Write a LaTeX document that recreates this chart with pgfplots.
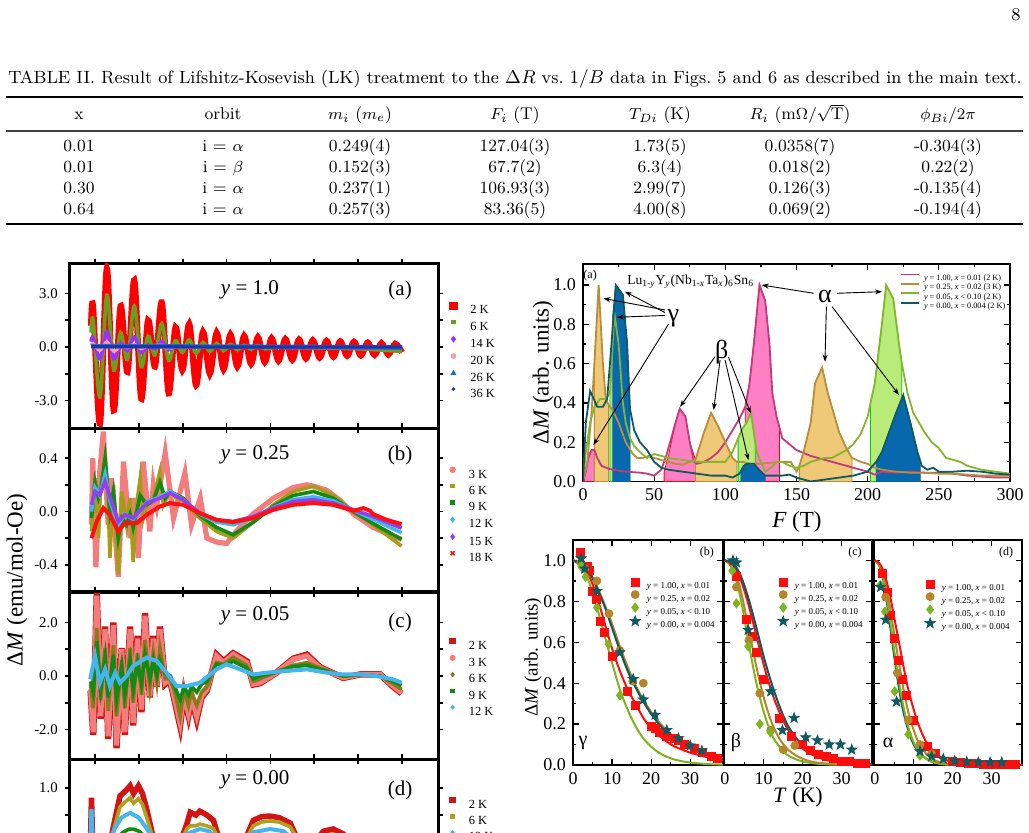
\documentclass[border=0pt]{standalone}
\usepackage{pgfplots}
\pgfplotsset{compat=1.18}
\usepackage{graphicx}
\usepackage{fontspec}
\usetikzlibrary{arrows.meta}
\newfontfamily\tnr{Liberation Serif}

% oscillation panels
\definecolor{r2}{HTML}{FF0000}
\definecolor{g6}{HTML}{6A9E1F}
\definecolor{p14}{HTML}{9B30FF}
\definecolor{pk20}{HTML}{F4A3A3}
\definecolor{b26}{HTML}{1F6FC0}
\definecolor{b36}{HTML}{1A35B0}
\definecolor{pk3}{HTML}{F37C7C}
\definecolor{ol6}{HTML}{A89B1A}
\definecolor{gr9}{HTML}{138A13}
\definecolor{cy12}{HTML}{45B5F0}
\definecolor{pu15}{HTML}{9040F0}
\definecolor{rd18}{HTML}{FF1010}
\definecolor{dr2}{HTML}{D01515}
\definecolor{ol6c}{HTML}{8A7A1A}
\definecolor{ol6d}{HTML}{B0A020}
% FFT panel
\definecolor{mline}{HTML}{C23B7A}
\definecolor{tline}{HTML}{B98E3A}
\definecolor{gline}{HTML}{86B42E}
\definecolor{bline}{HTML}{0D5B5E}
\definecolor{mfill}{HTML}{FF7FC4}
\definecolor{tfill}{HTML}{EFC878}
\definecolor{gfill}{HTML}{B8EB78}
\definecolor{bfill}{HTML}{0868AD}
% temperature-damping panels
\definecolor{lkr}{HTML}{FF0D0D}
\definecolor{lkt}{HTML}{B3862A}
\definecolor{lkg}{HTML}{7DB521}
\definecolor{lkb}{HTML}{0F5A5F}

\pgfdeclareplotmark{fstar}{%
  \pgfpathmoveto{\pgfpointpolar{90}{\pgfplotmarksize}}%
  \pgfpathlineto{\pgfpointpolar{126}{0.42\pgfplotmarksize}}%
  \pgfpathlineto{\pgfpointpolar{162}{\pgfplotmarksize}}%
  \pgfpathlineto{\pgfpointpolar{198}{0.42\pgfplotmarksize}}%
  \pgfpathlineto{\pgfpointpolar{234}{\pgfplotmarksize}}%
  \pgfpathlineto{\pgfpointpolar{270}{0.42\pgfplotmarksize}}%
  \pgfpathlineto{\pgfpointpolar{306}{\pgfplotmarksize}}%
  \pgfpathlineto{\pgfpointpolar{342}{0.42\pgfplotmarksize}}%
  \pgfpathlineto{\pgfpointpolar{18}{\pgfplotmarksize}}%
  \pgfpathlineto{\pgfpointpolar{54}{0.42\pgfplotmarksize}}%
  \pgfpathclose
  \pgfusepathqfillstroke}

\pgfplotsset{
  leftpanel/.style={
    scale only axis, width=184pt, anchor=south west,
    xmin=-0.57, xmax=7.82,
    xtick={0,1,2,3,4,5,6,7}, xticklabels={},
    tick align=outside, major tick length=2.6pt, minor tick length=2.6pt,
    axis line style={line width=1.5pt},
    every tick/.style={black, line width=0.9pt},
    tick label style={font=\tnr\fontsize{7.4}{8}\selectfont},
    legend cell align=left,
    legend image code/.code={\draw[##1] plot coordinates {(0pt,2pt)};},
    legend style={draw=none, fill=none, inner sep=0pt, anchor=north west,
      font=\tnr\fontsize{6.2}{7}\selectfont, row sep=2.7pt,
      nodes={inner sep=0.4pt, text height=4.3pt, text depth=0pt},
      /tikz/every odd column/.append style={column sep=6.3pt}},
  },
  lk/.style={
    scale only axis, anchor=south west, height=112.5pt,
    ymin=0, ymax=1.1, xtick={0,10,20,30}, xticklabels={0,10,20,30},
    minor x tick num=1, ytick={0,0.2,0.4,0.6,0.8,1}, minor y tick num=1,
    tick align=inside, major tick length=3pt, minor tick length=1.6pt,
    axis line style={line width=0.8pt},
    every tick/.style={black, line width=0.6pt},
    tick label style={font=\tnr\fontsize{9}{10}\selectfont},
    legend cell align=left,
    legend image code/.code={\draw[##1] plot coordinates {(0pt,1.6pt)};},
    legend style={draw=none, fill=none, inner sep=0pt, anchor=north west,
      font=\tnr\fontsize{4.5}{5}\selectfont, row sep=0.65pt,
      nodes={inner sep=0.3pt, text height=3.3pt, text depth=0pt},
      /tikz/every odd column/.append style={column sep=3.1pt}},
  },
  fitline/.style={line width=1pt, smooth, tension=0.5, forget plot},
}

\newcommand{\tc}[3]{\node[anchor=base,inner sep=0pt,font=\fontsize{8.5}{10}\selectfont] at (#1,#2) {#3};}

\begin{document}
\begin{tikzpicture}[x=1pt,y=1pt]
\useasboundingbox (0,0) rectangle (514.5,416);
\clip (0,0) rectangle (514.5,416);

% ---------- page number, caption and table ----------
\node[anchor=base,inner sep=0pt,font=\fontsize{9}{10}\selectfont] at (508,405.5) {8};
\node[anchor=base,inner sep=0pt] at (257.5,374) {\resizebox{506.7pt}{!}{\fontsize{8.6}{10}\selectfont TABLE II. Result of Lifshitz-Kosevish (LK) treatment to the $\Delta R$ vs.\ $1/B$ data in Figs.~5 and 6 as described in the main text.}};
\draw[line width=1pt] (3,367.5) -- (511.5,367.5);
\draw[line width=0.7pt, black!75] (3,350.5) -- (511.5,350.5);
\draw[line width=1pt] (3,304) -- (511.5,304);

\tc{39.5}{356}{x}
\tc{111.5}{356}{orbit}
\tc{180}{356}{$m_i$ ($m_e$)}
\tc{257.5}{356}{$F_i$ (T)}
\tc{330}{356}{$T_{Di}$ (K)}
\tc{400}{356}{$R_i$ (m$\Omega/\sqrt{\mathrm{T}}$)}
\tc{474}{356}{$\phi_{Bi}/2\pi$}

\tc{39.5}{340.25}{0.01}\tc{111.5}{340.25}{i = $\alpha$}\tc{180}{340.25}{0.249(4)}\tc{257.5}{340.25}{127.04(3)}\tc{330}{340.25}{1.73(5)}\tc{400}{340.25}{0.0358(7)}\tc{474}{340.25}{-0.304(3)}
\tc{39.5}{329.75}{0.01}\tc{111.5}{329.75}{i = $\beta$}\tc{180}{329.75}{0.152(3)}\tc{257.5}{329.75}{67.7(2)}\tc{330}{329.75}{6.3(4)}\tc{400}{329.75}{0.018(2)}\tc{474}{329.75}{0.22(2)}
\tc{39.5}{319.25}{0.30}\tc{111.5}{319.25}{i = $\alpha$}\tc{180}{319.25}{0.237(1)}\tc{257.5}{319.25}{106.93(3)}\tc{330}{319.25}{2.99(7)}\tc{400}{319.25}{0.126(3)}\tc{474}{319.25}{-0.135(4)}
\tc{39.5}{308.75}{0.64}\tc{111.5}{308.75}{i = $\alpha$}\tc{180}{308.75}{0.257(3)}\tc{257.5}{308.75}{83.36(5)}\tc{330}{308.75}{4.00(8)}\tc{400}{308.75}{0.069(2)}\tc{474}{308.75}{-0.194(4)}

% ---------- (a) y = 1.0 ----------
\begin{axis}[leftpanel, at={(35pt,202pt)}, height=82pt,
  ymin=-4.542, ymax=4.654, ytick={-3,0,3}, yticklabels={-3.0,0.0,3.0},
  minor ytick={-1.5,1.5}, legend style={at={(1.031,0.771)}}]
\addplot[r2, line width=3pt, smooth, tension=0.55, forget plot] coordinates {
(-0.09,1.2) (-0.043,2.25) (0.113,-4.3) (0.27,4.4) (0.427,-3.55) (0.583,2.3) (0.740,-1.4)
(0.896,3.75) (1.053,-2.9) (1.209,1.5) (1.366,-1.1) (1.522,2.5) (1.679,-2.6) (1.835,1.1)
(1.992,-1.3) (2.148,1.3) (2.305,-2.15) (2.461,0.85) (2.618,-1.5) (2.774,0.8) (2.931,-1.25)
(3.087,0.7) (3.244,-1.1) (3.40,0.62) (3.557,-0.95) (3.713,0.55) (3.870,-0.85) (4.026,0.5)
(4.183,-0.78) (4.339,0.45) (4.496,-0.72) (4.652,0.42) (4.809,-0.65) (4.965,0.38) (5.122,-0.6)
(5.278,0.35) (5.435,-0.55) (5.591,0.32) (5.748,-0.5) (5.904,0.3) (6.061,-0.48) (6.217,0.25)
(6.374,-0.45) (6.53,0.22) (6.687,-0.42) (6.843,0.18) (7.0,-0.3)};
\addplot[g6, line width=1.8pt, smooth, tension=0.55, forget plot] coordinates {
(-0.09,0.8) (-0.043,1.5) (0.113,-2.8) (0.27,2.9) (0.427,-1.3) (0.583,0.8) (0.740,-0.7)
(0.896,2.3) (1.053,-1.1) (1.209,0.6) (1.366,-0.45) (1.522,1.3) (1.679,-0.75) (1.835,0.35)
(1.992,-0.3) (2.148,0.4) (2.305,-0.35) (2.461,0.25) (2.618,-0.25) (2.774,0.2) (2.931,-0.2)
(3.087,0.15) (3.244,-0.15) (3.40,0.1) (3.557,-0.12) (3.713,0.08) (3.87,-0.1) (4.2,-0.02)
(5.0,-0.05) (6.0,-0.1) (7.0,-0.25)};
\addplot[p14, line width=1.8pt, smooth, tension=0.55, forget plot] coordinates {
(-0.09,0.3) (-0.043,0.5) (0.113,-0.65) (0.27,0.85) (0.427,-0.65) (0.583,0.2) (0.74,-0.2)
(0.896,0.55) (1.053,-0.3) (1.209,0.1) (1.366,-0.1) (1.522,0.3) (1.679,-0.15) (1.835,0.05)
(2.1,0.0) (7.0,-0.05)};
\addplot[pk20, line width=1.5pt, smooth, tension=0.55, forget plot] coordinates {
(-0.09,0.1) (-0.043,0.2) (0.113,-0.2) (0.27,0.3) (0.427,-0.25) (0.583,0.05) (0.74,-0.05)
(0.896,0.15) (1.053,-0.1) (1.209,0.05) (1.522,0.1) (1.679,-0.05) (2.0,0.0) (7.0,0.0)};
\addplot[b26, line width=2.2pt, forget plot] coordinates {(-0.09,0.05) (3.5,0.02) (7.0,-0.02)};
\addplot[b36, line width=1.6pt, forget plot] coordinates {(-0.09,0.02) (3.5,0.0) (7.0,0.0)};
\addlegendimage{only marks, mark=square*, mark size=1.8pt, r2}\addlegendentry{2 K}
\addlegendimage{only marks, mark=square*, mark size=0.9pt, g6}\addlegendentry{6 K}
\addlegendimage{only marks, mark=diamond*, mark size=1.4pt, p14}\addlegendentry{14 K}
\addlegendimage{only marks, mark=*, mark size=1.2pt, pk20}\addlegendentry{20 K}
\addlegendimage{only marks, mark=triangle*, mark size=1.3pt, b26}\addlegendentry{26 K}
\addlegendimage{only marks, mark=*, mark size=0.7pt, b36}\addlegendentry{36 K}
\node[font=\tnr\fontsize{10.5}{12}\selectfont] at (axis description cs:0.489,0.841) {\textit{y} = 1.0};
\node[font=\tnr\fontsize{10.5}{12}\selectfont] at (axis description cs:0.897,0.841) {(a)};
\end{axis}

% ---------- (b) y = 0.25 ----------
\begin{axis}[leftpanel, at={(35pt,120pt)}, height=82pt,
  ymin=-0.605, ymax=0.627, ytick={-0.4,0,0.4}, yticklabels={-0.4,0.0,0.4},
  minor ytick={-0.2,0.2}, legend style={at={(1.031,0.765)}},
  ylabel={Δ\textit{M} (emu/mol-Oe)},
  ylabel style={at={(axis description cs:-0.144,0.073)}, anchor=center, font=\tnr\fontsize{11.5}{13}\selectfont}]
\addplot[pk3, line width=2.6pt, forget plot] coordinates {
(-0.08,-0.1) (-0.05,0.4) (0.02,-0.42) (0.11,0.3) (0.19,0.6) (0.30,-0.1) (0.37,0.25) (0.53,-0.49)
(0.65,0.375) (0.80,-0.2) (0.87,0.1) (0.99,-0.35) (1.10,0.375) (1.25,-0.15) (1.33,0.2) (1.41,0.05)
(1.60,0.44) (1.79,-0.05) (2.05,0.29) (2.20,-0.1) (2.40,0.1) (2.55,-0.2) (2.77,-0.23) (3.0,-0.24)
(3.3,-0.12) (3.6,-0.02) (4.07,0.1) (4.52,0.18) (4.83,0.2) (4.98,0.19) (5.28,0.16) (5.6,0.08)
(5.9,-0.02) (6.34,-0.12) (6.99,-0.21)};
\addplot[ol6, line width=1.8pt, forget plot] coordinates {
(-0.08,-0.15) (0,0.25) (0.08,-0.2) (0.13,0.2) (0.23,0.4) (0.30,0.1) (0.34,-0.35) (0.42,0.2)
(0.53,-0.47) (0.61,0.15) (0.72,-0.1) (0.80,0.1) (0.87,-0.38) (0.95,0.05) (1.03,0.25) (1.10,-0.05)
(1.18,0.05) (1.33,0.1) (1.48,0.3) (1.56,0.05) (1.71,0.15) (1.86,0.1) (2.01,0.08) (2.39,-0.05)
(2.77,-0.15) (3.15,-0.2) (3.61,-0.08) (4.07,0.05) (4.52,0.15) (4.98,0.19) (5.43,0.12) (5.89,0.0)
(6.34,-0.1) (6.99,-0.26)};
\addplot[gr9, line width=1.8pt, forget plot] coordinates {
(-0.08,-0.05) (0,0.22) (0.08,0.1) (0.13,0.15) (0.23,0.4) (0.34,0.0) (0.42,0.15) (0.53,-0.2)
(0.61,-0.05) (0.72,-0.1) (0.80,-0.02) (0.87,-0.12) (1.03,0.12) (1.18,0.05) (1.33,0.08) (1.48,0.22)
(1.60,0.1) (1.71,0.15) (2.01,0.1) (2.39,-0.03) (2.77,-0.12) (3.15,-0.175) (3.61,-0.08) (4.07,0.04)
(4.52,0.12) (4.98,0.15) (5.43,0.1) (5.89,0.0) (6.34,-0.09) (6.99,-0.21)};
\addplot[cy12, line width=1.8pt, forget plot] coordinates {
(-0.08,0.0) (0,0.18) (0.11,0.12) (0.23,0.28) (0.34,0.08) (0.53,-0.1) (0.68,-0.02) (0.87,-0.06)
(1.18,0.07) (1.48,0.11) (1.71,0.15) (2.01,0.09) (2.39,-0.02) (2.77,-0.08) (3.15,-0.1) (3.61,-0.05)
(4.07,0.03) (4.52,0.09) (4.98,0.11) (5.43,0.08) (5.89,0.01) (6.34,-0.06) (6.99,-0.16)};
\addplot[pu15, line width=1.8pt, forget plot] coordinates {
(-0.08,0.05) (0,0.15) (0.11,0.125) (0.23,0.225) (0.34,0.11) (0.53,-0.075) (0.68,-0.025) (0.87,-0.05)
(1.18,0.063) (1.48,0.1) (1.71,0.138) (2.01,0.088) (2.39,-0.013) (2.77,-0.063) (3.15,-0.075)
(3.61,-0.038) (4.07,0.025) (4.52,0.075) (4.98,0.088) (5.43,0.063) (5.89,0.013) (6.34,-0.038) (6.99,-0.125)};
\addplot[rd18, line width=2pt, forget plot] coordinates {
(-0.08,-0.2) (0.04,-0.075) (0.19,0.025) (0.34,-0.025) (0.53,-0.15) (0.68,-0.088) (0.95,-0.088)
(1.18,-0.025) (1.48,0.038) (1.71,0.063) (2.01,0.05) (2.39,-0.013) (2.77,-0.063) (3.15,-0.08)
(3.61,-0.05) (4.07,0.013) (4.52,0.05) (4.98,0.063) (5.43,0.05) (5.89,0.005) (6.12,0.025)
(6.27,0.005) (6.34,-0.02) (6.65,-0.063) (6.99,-0.095)};
\addlegendimage{only marks, mark=*, mark size=1.4pt, pk3}\addlegendentry{3 K}
\addlegendimage{only marks, mark=square*, mark size=0.9pt, ol6}\addlegendentry{6 K}
\addlegendimage{only marks, mark=square*, mark size=1.0pt, gr9}\addlegendentry{9 K}
\addlegendimage{only marks, mark=diamond*, mark size=1.3pt, cy12}\addlegendentry{12 K}
\addlegendimage{only marks, mark=diamond*, mark size=1.3pt, pu15}\addlegendentry{15 K}
\addlegendimage{only marks, mark=x, mark size=1.4pt, line width=0.8pt, rd18}\addlegendentry{18 K}
\node[font=\tnr\fontsize{10.5}{12}\selectfont] at (axis description cs:0.503,0.835) {\textit{y} = 0.25};
\node[font=\tnr\fontsize{10.5}{12}\selectfont] at (axis description cs:0.897,0.835) {(b)};
\end{axis}

% ---------- (c) y = 0.05 ----------
\begin{axis}[leftpanel, at={(35pt,36.5pt)}, height=83.5pt,
  ymin=-3.10, ymax=3.14, ytick={-2,0,2}, yticklabels={-2.0,0.0,2.0},
  minor ytick={-1,1}, legend style={at={(1.031,0.727)}}]
\addplot[dr2, line width=3.2pt, forget plot] coordinates {
(-0.10,-0.55) (-0.04,-2.2) (0.04,3.1) (0.13,-1.6) (0.23,1.85) (0.30,-2.35) (0.42,2.0) (0.49,-2.7)
(0.61,1.05) (0.68,-2.2) (0.80,1.85) (0.87,-1.85) (0.97,1.5) (1.06,-1.35) (1.14,2.35) (1.25,-0.8)
(1.33,1.5) (1.41,-0.4) (1.48,1.85) (1.60,-0.3) (1.71,-0.15) (1.82,-0.95) (1.94,-1.85) (2.03,-0.7)
(2.13,-1.45) (2.20,-0.8) (2.32,-1.6) (2.43,-0.8) (2.55,-0.55) (2.77,0.8) (2.93,0.55) (3.15,0.85)
(3.46,0.55) (3.61,-0.32) (3.76,-0.27) (4.14,0.13) (4.52,0.65) (4.83,0.8) (5.13,0.33) (5.66,-0.07)
(6.04,0.06) (6.50,0.06) (6.80,-0.4) (6.99,-0.65)};
\addplot[pk3, line width=2.6pt, forget plot] coordinates {
(-0.10,-0.5) (-0.04,-2.1) (0.04,3.0) (0.13,-1.5) (0.23,1.75) (0.30,-2.25) (0.42,1.9) (0.49,-2.6)
(0.61,1.0) (0.68,-2.1) (0.80,1.75) (0.87,-1.75) (0.97,1.4) (1.06,-1.25) (1.14,2.25) (1.25,-0.75)
(1.33,1.4) (1.41,-0.375) (1.48,1.75) (1.60,-0.25) (1.71,-0.125) (1.82,-0.875) (1.94,-1.75)
(2.03,-0.625) (2.13,-1.375) (2.20,-0.75) (2.32,-1.5) (2.43,-0.75) (2.55,-0.5) (2.77,0.75)
(2.93,0.5) (3.15,0.81) (3.46,0.5) (3.61,-0.3) (3.76,-0.25) (4.14,0.125) (4.52,0.625) (4.83,0.75)
(5.13,0.31) (5.66,-0.06) (6.04,0.06) (6.50,0.06) (6.80,-0.375) (6.99,-0.625)};
\addplot[ol6c, line width=1.8pt, forget plot] coordinates {
(-0.10,-0.3) (-0.04,-1.2) (0.04,1.8) (0.13,-0.9) (0.23,1.05) (0.30,-1.3) (0.42,1.15) (0.49,-1.5)
(0.61,0.6) (0.68,-1.2) (0.80,1.05) (0.87,-1.0) (0.97,0.85) (1.06,-0.7) (1.14,1.35) (1.25,-0.4)
(1.33,0.85) (1.41,-0.2) (1.48,1.05) (1.60,-0.1) (1.71,-0.1) (1.82,-0.6) (1.94,-1.5) (2.03,-0.5)
(2.13,-1.1) (2.20,-0.6) (2.32,-1.1) (2.43,-0.6) (2.55,-0.4) (2.77,0.5) (2.93,0.45) (3.15,0.7)
(3.46,0.4) (3.61,-0.2) (3.76,-0.1) (4.14,0.15) (4.52,0.4) (4.83,0.5) (5.13,0.3) (5.66,0.0)
(6.04,0.05) (6.50,0.0) (6.80,-0.3) (6.99,-0.5)};
\addplot[gr9, line width=1.8pt, forget plot] coordinates {
(-0.10,-0.2) (-0.04,-0.6) (0.04,1.3) (0.13,-0.5) (0.23,0.7) (0.30,-0.8) (0.42,0.8) (0.49,-0.9)
(0.61,0.4) (0.68,-0.7) (0.80,0.6) (0.87,-0.5) (0.97,0.5) (1.06,-0.3) (1.14,0.8) (1.25,-0.1)
(1.33,0.6) (1.41,0.0) (1.48,0.6) (1.60,0.1) (1.71,0.0) (1.82,-0.4) (1.94,-0.9) (2.03,-0.4)
(2.13,-0.7) (2.20,-0.4) (2.32,-0.6) (2.43,-0.3) (2.55,-0.2) (2.77,0.45) (2.93,0.4) (3.15,0.55)
(3.46,0.3) (3.61,-0.1) (3.76,0.0) (4.14,0.15) (4.52,0.35) (4.83,0.4) (5.13,0.25) (5.66,0.0)
(6.04,0.05) (6.50,0.0) (6.80,-0.2) (6.99,-0.35)};
\addplot[cy12, line width=2pt, forget plot] coordinates {
(-0.11,-0.125) (0,0.75) (0.11,-0.25) (0.23,0.25) (0.34,-0.375) (0.46,0.125) (0.57,-0.25) (0.72,0)
(0.87,0.375) (1.18,0.69) (1.41,0.56) (1.63,0.125) (1.86,-0.375) (2.09,-0.375) (2.39,-0.25)
(2.77,0.25) (3.0,0.44) (3.31,0.25) (3.61,0.06) (3.91,0.125) (4.37,0.19) (4.83,0.25) (5.28,0.125)
(5.66,0.06) (6.04,0.06) (6.42,0) (6.8,-0.125) (6.99,-0.25)};
\addlegendimage{only marks, mark=square*, mark size=1.4pt, dr2}\addlegendentry{2 K}
\addlegendimage{only marks, mark=*, mark size=1.3pt, pk3}\addlegendentry{3 K}
\addlegendimage{only marks, mark=diamond*, mark size=1.1pt, ol6c}\addlegendentry{6 K}
\addlegendimage{only marks, mark=square*, mark size=0.9pt, gr9}\addlegendentry{9 K}
\addlegendimage{only marks, mark=*, mark size=0.9pt, cy12}\addlegendentry{12 K}
\node[font=\tnr\fontsize{10.5}{12}\selectfont] at (axis description cs:0.503,0.855) {\textit{y} = 0.05};
\node[font=\tnr\fontsize{10.5}{12}\selectfont] at (axis description cs:0.897,0.82) {(c)};
\end{axis}

% ---------- (d) y = 0.00 ----------
\begin{axis}[leftpanel, at={(35pt,-46.5pt)}, height=83pt,
  ymin=-1.537, ymax=1.537, ytick={1}, yticklabels={1.0},
  minor ytick={-1,-0.5,0,0.5}, legend style={at={(1.031,0.773)}}]
\addplot[dr2, line width=2.8pt, forget plot] coordinates {
(-0.11,-0.3) (-0.08,0.82) (-0.05,-0.2) (0.1,-0.4) (0.3,-0.2) (0.45,0.4) (0.57,0.85) (0.7,0.95)
(0.80,1.04) (0.88,0.9) (0.99,1.04) (1.08,0.9) (1.18,0.6) (1.35,0.0) (1.6,-0.3) (1.9,-0.1)
(2.1,0.35) (2.17,0.55) (2.3,0.5) (2.39,0.57) (2.55,0.5) (2.7,0.4) (2.85,0.0) (3.1,-0.3) (3.4,0.0)
(3.61,0.4) (3.8,0.47) (3.99,0.48) (4.2,0.45) (4.45,0.35) (4.7,-0.1) (5.0,0.0) (5.21,0.2)
(5.43,0.24) (5.66,0.15) (5.9,-0.1) (6.3,-0.2) (7.0,-0.1)};
\addplot[ol6d, line width=1.8pt, forget plot] coordinates {
(-0.11,-0.2) (-0.08,0.6) (-0.05,-0.2) (0.1,-0.35) (0.3,-0.15) (0.45,0.3) (0.57,0.65) (0.7,0.75)
(0.80,0.82) (0.88,0.72) (0.99,0.8) (1.08,0.7) (1.18,0.45) (1.35,0.0) (1.6,-0.25) (1.9,-0.05)
(2.1,0.25) (2.17,0.3) (2.3,0.3) (2.39,0.33) (2.55,0.3) (2.7,0.25) (2.85,0.0) (3.1,-0.25) (3.4,0.0)
(3.61,0.3) (3.8,0.37) (3.99,0.39) (4.2,0.37) (4.45,0.28) (4.7,-0.05) (5.0,-0.02) (5.21,0.12)
(5.43,0.15) (5.66,0.08) (5.9,-0.1) (6.3,-0.15) (7.0,-0.1)};
\addplot[gr9, line width=1.8pt, smooth, forget plot] coordinates {
(-0.11,0) (0.3,-0.1) (0.6,0.15) (0.8,0.24) (1.0,0.2) (1.3,0.0) (1.8,-0.05) (2.39,0.12) (3.0,-0.05)
(3.99,0.12) (4.6,0.0) (7,0)};
\addplot[cy12, line width=2pt, forget plot] coordinates {
(-0.11,-0.1) (-0.08,0.61) (-0.05,0.0) (0.1,-0.2) (0.3,-0.05) (0.45,0.25) (0.6,0.45) (0.8,0.54)
(1.0,0.45) (1.18,0.25) (1.35,0.0) (1.6,-0.15) (1.9,0.0) (2.1,0.15) (2.39,0.24) (2.6,0.2) (2.85,0.0)
(3.1,-0.15) (3.4,0.0) (3.61,0.18) (3.99,0.24) (4.3,0.2) (4.6,0.0) (5.0,-0.05) (5.4,0.1) (5.7,0.05)
(6.2,-0.1) (7.0,-0.05)};
\addlegendimage{only marks, mark=square*, mark size=1.4pt, dr2}\addlegendentry{2 K}
\addlegendimage{only marks, mark=square*, mark size=0.9pt, ol6d}\addlegendentry{6 K}
\addlegendimage{only marks, mark=*, mark size=0.9pt, cy12}\addlegendentry{12 K}
\node[font=\tnr\fontsize{10.5}{12}\selectfont] at (axis description cs:0.503,0.873) {\textit{y} = 0.00};
\node[font=\tnr\fontsize{10.5}{12}\selectfont] at (axis description cs:0.897,0.813) {(d)};
\end{axis}

% ---------- FFT amplitude ----------
\begin{axis}[scale only axis, at={(291.5pt,175.25pt)}, anchor=south west,
  width=213.5pt, height=108.75pt, xmin=0, xmax=300, ymin=0, ymax=1.107,
  xtick={0,50,100,150,200,250,300}, xticklabels={0,50,100,150,200,250,300},
  ytick={0,0.2,0.4,0.6,0.8,1}, yticklabels={0.0,0.2,0.4,0.6,0.8,1.0},
  minor x tick num=1, minor y tick num=1,
  tick align=inside, major tick length=3pt, minor tick length=1.6pt,
  axis line style={line width=0.8pt}, every tick/.style={black, line width=0.6pt},
  tick label style={font=\tnr\fontsize{9}{10}\selectfont},
  xlabel={\textit{F} (T)}, ylabel={Δ\textit{M} (arb. units)},
  label style={font=\tnr\fontsize{11.5}{13}\selectfont},
  xlabel style={at={(axis description cs:0.501,-0.186)}, anchor=center},
  ylabel style={at={(axis description cs:-0.0937,0.5)}, anchor=center},
  legend cell align=left,
  legend image code/.code={\draw[#1] (0pt,1.4pt) -- (9pt,1.4pt);},
  legend style={at={(0.742,0.958)}, anchor=north west, draw=none, fill=none, inner sep=0pt,
    font=\tnr\fontsize{4.1}{5}\selectfont, row sep=1.05pt,
    nodes={inner sep=0.3pt, text height=3pt, text depth=0pt},
    /tikz/every odd column/.append style={column sep=1.7pt}}]
% filled peaks
\addplot[fill=mfill, draw=red, line width=0.4pt, forget plot] coordinates {(1,0.02) (3,0.1) (6,0.16) (8,0.16) (9,0.14)} \closedcycle;
\addplot[fill=mfill, draw=red, line width=0.4pt, forget plot] coordinates {(57,0.05) (60,0.13) (65,0.3) (68,0.37) (72,0.33) (75,0.2) (80,0.09)} \closedcycle;
\addplot[fill=mfill, draw=red, line width=0.4pt, forget plot] coordinates {(114,0.38) (117,0.5) (120,0.7) (124,1.0) (128,0.92) (131,0.7) (133,0.45) (136,0.33) (138,0.28)} \closedcycle;
\addplot[fill=tfill, draw=tline, line width=0.4pt, forget plot] coordinates {(8,0.6) (11,1.0) (14,0.6) (16,0.42) (18,0.39)} \closedcycle;
\addplot[fill=tfill, draw=tline, line width=0.4pt, forget plot] coordinates {(79,0.11) (85,0.25) (90,0.35) (95,0.28) (100,0.2) (105,0.12) (108,0.1)} \closedcycle;
\addplot[fill=tfill, draw=tline, line width=0.4pt, forget plot] coordinates {(152,0.08) (155,0.15) (160,0.3) (163,0.5) (168,0.58) (172,0.45) (176,0.35) (180,0.25) (185,0.17) (189,0.12)} \closedcycle;
\addplot[fill=gfill, draw=green!80!black, line width=0.4pt, forget plot] coordinates {(19,0.45) (22,0.86) (25,0.7) (28,0.4) (30,0.3) (33,0.22)} \closedcycle;
\addplot[fill=gfill, draw=green!80!black, line width=0.4pt, forget plot] coordinates {(109,0.22) (112,0.27) (115,0.3) (118,0.35) (120,0.25) (121,0.2)} \closedcycle;
\addplot[fill=gfill, draw=green!80!black, line width=0.4pt, forget plot] coordinates {(202,0.4) (205,0.5) (210,0.8) (213,1.0) (218,0.93) (222,0.7) (224,0.6)} \closedcycle;
\addplot[fill=bfill, draw=bfill, line width=0.4pt, forget plot] coordinates {(21,0.85) (23,1.0) (28,0.95) (31,0.7) (33,0.37)} \closedcycle;
\addplot[fill=bfill, draw=bfill, line width=0.4pt, forget plot] coordinates {(111,0.05) (113,0.08) (115,0.09) (120,0.09) (125,0.05) (128,0.03)} \closedcycle;
\addplot[fill=bfill, draw=bfill, line width=0.4pt, forget plot] coordinates {(206,0.1) (210,0.15) (215,0.25) (220,0.35) (225,0.44) (230,0.3) (235,0.15) (237,0.08)} \closedcycle;
% spectra
\addplot[mline, line width=0.9pt] coordinates {
(0,0) (2,0.05) (4,0.13) (6,0.16) (8,0.16) (10,0.12) (13,0.08) (18,0.065) (25,0.055) (30,0.05)
(40,0.045) (45,0.04) (50,0.03) (55,0.06) (58,0.12) (62,0.22) (65,0.3) (68,0.37) (72,0.33) (75,0.2)
(78,0.1) (80,0.09) (85,0.1) (90,0.12) (95,0.15) (100,0.2) (105,0.26) (110,0.32) (114,0.38) (117,0.5)
(120,0.7) (124,1.0) (128,0.92) (131,0.7) (133,0.45) (136,0.33) (140,0.22) (150,0.16) (160,0.13)
(170,0.11) (180,0.09) (190,0.07) (200,0.05) (205,0.035) (210,0.05) (220,0.045) (230,0.05)
(240,0.045) (250,0.045) (260,0.04) (270,0.03) (280,0.025) (290,0.02) (300,0.02)};
\addlegendentry{\textit{y} = 1.00, \textit{x} = 0.01 (2 K)}
\addplot[tline, line width=0.9pt] coordinates {
(0,0) (3,0.1) (6,0.35) (8,0.6) (11,1.0) (14,0.6) (16,0.42) (18,0.39) (21,0.36) (25,0.3) (30,0.2)
(35,0.14) (38,0.12) (42,0.12) (46,0.13) (50,0.12) (55,0.11) (60,0.1) (65,0.09) (70,0.085) (75,0.1)
(79,0.11) (85,0.25) (90,0.35) (95,0.28) (100,0.2) (105,0.12) (108,0.1) (112,0.1) (118,0.09)
(125,0.09) (130,0.095) (140,0.1) (146,0.1) (150,0.05) (152,0.08) (155,0.15) (160,0.3) (163,0.5)
(168,0.58) (172,0.45) (176,0.35) (180,0.25) (185,0.17) (189,0.12) (195,0.1) (200,0.09) (205,0.07)
(210,0.06) (220,0.05) (230,0.045) (240,0.045) (250,0.04) (260,0.04) (270,0.035) (280,0.03)
(290,0.03) (300,0.03)};
\addlegendentry{\textit{y} = 0.25, \textit{x} = 0.02 (3 K)}
\addplot[gline, line width=0.9pt] coordinates {
(0,0) (2,0.15) (5,0.3) (8,0.38) (12,0.42) (16,0.42) (19,0.45) (22,0.86) (25,0.7) (28,0.4) (30,0.3)
(33,0.22) (36,0.18) (40,0.15) (45,0.12) (50,0.14) (55,0.13) (60,0.12) (70,0.11) (80,0.1) (90,0.1)
(100,0.1) (105,0.15) (109,0.22) (112,0.27) (115,0.3) (118,0.35) (120,0.25) (122,0.15) (125,0.1)
(128,0.05) (132,0.07) (136,0.1) (140,0.1) (145,0.08) (150,0.07) (155,0.08) (160,0.1) (170,0.12)
(175,0.12) (180,0.14) (185,0.16) (190,0.19) (195,0.24) (200,0.33) (202,0.4) (205,0.5) (210,0.8)
(213,1.0) (218,0.93) (222,0.7) (224,0.6) (228,0.45) (232,0.35) (236,0.3) (240,0.25) (245,0.2)
(250,0.17) (255,0.12) (260,0.11) (265,0.1) (270,0.08) (280,0.06) (290,0.05) (300,0.04)};
\addlegendentry{\textit{y} = 0.05, \textit{x} < 0.10 (2 K)}
\addplot[bline, line width=0.9pt] coordinates {
(0,0) (2,0.3) (5,0.46) (7,0.43) (10,0.38) (14,0.38) (17,0.42) (20,0.7) (23,1.0) (28,0.95) (31,0.7)
(33,0.37) (36,0.26) (40,0.2) (45,0.16) (50,0.1) (55,0.07) (60,0.06) (70,0.05) (80,0.04) (90,0.03)
(100,0.03) (105,0.02) (110,0.04) (113,0.08) (115,0.09) (120,0.09) (125,0.05) (128,0.03) (135,0.03)
(140,0.03) (145,0.035) (150,0.02) (155,0.01) (160,0.0) (170,0.01) (180,0.02) (190,0.03) (200,0.05)
(206,0.1) (210,0.15) (215,0.25) (220,0.35) (225,0.44) (230,0.3) (235,0.15) (238,0.08) (242,0.06)
(246,0.07) (250,0.05) (260,0.05) (270,0.055) (280,0.05) (290,0.04) (300,0.035)};
\addlegendentry{\textit{y} = 0.00, \textit{x} = 0.004 (2 K)}
% labels and arrows
\node[anchor=center, font=\tnr\fontsize{6}{7}\selectfont] at (axis cs:5,1.046) {(a)};
\node[anchor=west, inner sep=0pt, font=\tnr\fontsize{6.8}{8}\selectfont] at (axis cs:30.9,1.015)
  {Lu\textsubscript{1-\textit{y}}Y\textsubscript{\textit{y}}(Nb\textsubscript{1-\textit{x}}Ta\textsubscript{\textit{x}})\textsubscript{6}Sn\textsubscript{6}};
\node[font=\tnr\fontsize{13}{14}\selectfont] at (axis cs:63.5,0.83) {γ};
\node[font=\tnr\fontsize{13}{14}\selectfont] at (axis cs:97.4,0.66) {β};
\node[font=\tnr\fontsize{13}{14}\selectfont] at (axis cs:170,0.94) {α};
\begin{scope}[-{Stealth[length=3.5pt,width=2.5pt]}, line width=0.45pt]
\draw (axis cs:162,0.958) -- (axis cs:125.6,1.0);
\draw (axis cs:178.5,0.958) -- (axis cs:210.1,0.966);
\draw (axis cs:171,0.89) -- (axis cs:170,0.61);
\draw (axis cs:175,0.89) -- (axis cs:222,0.44);
\draw (axis cs:57.6,0.873) -- (axis cs:14.3,0.932);
\draw (axis cs:57.6,0.86) -- (axis cs:29.5,0.966);
\draw (axis cs:57.6,0.845) -- (axis cs:23.7,0.836);
\draw (axis cs:60,0.8) -- (axis cs:7.3,0.186);
\draw (axis cs:92.7,0.635) -- (axis cs:68.2,0.38);
\draw (axis cs:96.3,0.618) -- (axis cs:91.8,0.364);
\draw (axis cs:99.8,0.618) -- (axis cs:116.2,0.109);
\draw (axis cs:102.1,0.635) -- (axis cs:117.9,0.347);
\end{scope}
\end{axis}

% ---------- temperature dependence: gamma ----------
\begin{axis}[lk, at={(286.5pt,33.5pt)}, width=75pt, xmin=0, xmax=38.4,
  yticklabels={0.0,0.2,0.4,0.6,0.8,1.0},
  ylabel={Δ\textit{M} (arb. units)},
  ylabel style={at={(axis description cs:-0.267,0.48)}, anchor=center, font=\tnr\fontsize{9.5}{11}\selectfont},
  legend style={at={(0.379,0.832)}}]
\addplot[fitline, lkg] coordinates {(0,1) (2,0.97) (4,0.9) (6,0.78) (8,0.64) (10,0.5) (12,0.37) (14,0.27) (16,0.19) (18,0.13) (20,0.09) (22,0.06) (24,0.04) (26,0.027) (28,0.018) (30,0.012) (32,0.008) (34,0.005) (36,0.003) (38.4,0.002)};
\addplot[fitline, lkr] coordinates {(0,1) (2,0.98) (4,0.93) (6,0.83) (8,0.70) (10,0.57) (12,0.46) (14,0.37) (16,0.30) (18,0.23) (20,0.18) (22,0.145) (24,0.115) (26,0.09) (28,0.075) (30,0.06) (32,0.05) (34,0.04) (36,0.032) (38.4,0.025)};
\addplot[fitline, lkt] coordinates {(0,1) (2,0.99) (4,0.95) (6,0.88) (8,0.79) (10,0.69) (12,0.58) (14,0.48) (16,0.39) (18,0.32) (20,0.26) (22,0.21) (24,0.17) (26,0.135) (28,0.11) (30,0.085) (32,0.07) (34,0.055) (36,0.043) (38.4,0.035)};
\addplot[fitline, lkb] coordinates {(0,1) (2,0.99) (4,0.95) (6,0.87) (8,0.78) (10,0.67) (12,0.56) (14,0.46) (16,0.38) (18,0.31) (20,0.25) (22,0.2) (24,0.16) (26,0.125) (28,0.1) (30,0.08) (32,0.062) (34,0.05) (36,0.04) (38.4,0.03)};
\addplot[only marks, mark=square*, mark size=2pt, lkr] coordinates {(2,1.04) (3.6,0.97) (4.2,0.95) (5,0.85) (6,0.81) (7,0.70) (8,0.65) (10,0.53) (14,0.36) (16,0.29) (20,0.19) (21,0.18) (22,0.16) (24,0.14) (26,0.13) (27,0.12) (28.6,0.10) (31,0.08) (33,0.06) (35.5,0.04) (37,0.03)};
\addlegendentry{\textit{y} = 1.00, \textit{x} = 0.01}
\addplot[only marks, mark=*, mark size=2pt, lkt] coordinates {(2,0.99) (3,0.96) (6.1,0.90) (9.2,0.74) (12,0.56) (15.3,0.41) (18,0.40)};
\addlegendentry{\textit{y} = 0.25, \textit{x} = 0.02}
\addplot[only marks, mark=diamond*, mark size=2.3pt, lkg] coordinates {(2.1,0.97) (3.2,0.92) (6.1,0.77) (9.1,0.59) (12,0.34)};
\addlegendentry{\textit{y} = 0.05, \textit{x} < 0.10}
\addplot[only marks, mark=fstar, mark size=2.6pt, lkb] coordinates {(2.1,1.01) (3,0.96) (6.1,0.85) (12,0.55) (15.4,0.42) (18,0.32) (21,0.245) (24,0.17) (27,0.13) (30,0.095) (33,0.07)};
\addlegendentry{\textit{y} = 0.00, \textit{x} = 0.004}
\node[font=\tnr\fontsize{6}{7}\selectfont] at (axis description cs:0.893,0.942) {(b)};
\node[font=\tnr\fontsize{10}{11}\selectfont] at (axis description cs:0.067,0.098) {γ};
\end{axis}

% ---------- temperature dependence: beta ----------
\begin{axis}[lk, at={(362pt,33.5pt)}, width=74pt, xmin=-0.2, xmax=37.8,
  yticklabels={}, xlabel={\textit{T} (K)},
  xlabel style={at={(axis description cs:0.5,-0.142)}, anchor=center, font=\tnr\fontsize{11}{12}\selectfont},
  legend style={at={(0.364,0.832)}}]
\addplot[fitline, lkg] coordinates {(0,1) (2,0.96) (4,0.82) (6,0.61) (8,0.41) (10,0.26) (12,0.15) (14,0.09) (16,0.05) (18,0.03) (20,0.017) (22,0.01) (24,0.006) (26,0.003) (30,0.001) (37.8,0)};
\addplot[fitline, lkt] coordinates {(0,1) (2,0.97) (4,0.86) (6,0.68) (8,0.49) (10,0.33) (12,0.21) (14,0.13) (16,0.08) (18,0.05) (20,0.03) (22,0.018) (24,0.011) (26,0.007) (28,0.004) (30,0.002) (34,0.001) (37.8,0)};
\addplot[fitline, lkr] coordinates {(0,1) (2,0.98) (4,0.91) (6,0.79) (8,0.64) (10,0.49) (12,0.36) (14,0.26) (16,0.18) (18,0.12) (20,0.08) (22,0.055) (24,0.037) (26,0.025) (28,0.016) (30,0.01) (32,0.007) (34,0.005) (36,0.003) (37.8,0.002)};
\addplot[fitline, lkb] coordinates {(0,1) (2,0.99) (4,0.93) (6,0.82) (8,0.68) (10,0.53) (12,0.40) (14,0.29) (16,0.2) (18,0.14) (20,0.095) (22,0.065) (24,0.045) (26,0.03) (28,0.02) (30,0.013) (32,0.009) (34,0.006) (36,0.004) (37.8,0.003)};
\addplot[only marks, mark=square*, mark size=2pt, lkr] coordinates {(3,0.92) (5.6,0.71) (7.1,0.63) (8,0.55) (10,0.42) (13.9,0.23) (17,0.14) (20,0.10) (22,0.07) (24,0.05) (26,0.04) (28,0.03) (30,0.02) (32,0.02) (34,0.01) (36,0.01)};
\addlegendentry{\textit{y} = 1.00, \textit{x} = 0.01}
\addplot[only marks, mark=*, mark size=2pt, lkt] coordinates {(3,0.87) (6.2,0.61) (9,0.35) (11.8,0.17) (15,0.075) (18,0.095)};
\addlegendentry{\textit{y} = 0.25, \textit{x} = 0.02}
\addplot[only marks, mark=diamond*, mark size=2.3pt, lkg] coordinates {(1.9,0.95) (3,0.79) (6,0.58) (9,0.2) (11.7,0.16)};
\addlegendentry{\textit{y} = 0.05, \textit{x} < 0.10}
\addplot[only marks, mark=fstar, mark size=2.6pt, lkb] coordinates {(2.1,1.0) (3,0.99) (6,0.66) (11.8,0.36) (14.8,0.17) (17.8,0.23) (20.8,0.135) (23.8,0.12) (26.8,0.10) (29.7,0.10) (32.6,0.075)};
\addlegendentry{\textit{y} = 0.00, \textit{x} = 0.004}
\node[font=\tnr\fontsize{6}{7}\selectfont] at (axis description cs:0.885,0.942) {(c)};
\node[font=\tnr\fontsize{10}{11}\selectfont] at (axis description cs:0.081,0.098) {β};
\end{axis}

% ---------- temperature dependence: alpha ----------
\begin{axis}[lk, at={(437pt,33.5pt)}, width=74pt, xmin=-0.2, xmax=37.8,
  yticklabels={}, legend style={at={(0.343,0.823)}}]
\addplot[fitline, lkb] coordinates {(0,1) (1,0.98) (2,0.92) (3,0.81) (4,0.67) (5,0.53) (6,0.4) (7,0.29) (8,0.21) (9,0.145) (10,0.1) (11,0.07) (12,0.048) (14,0.022) (16,0.01) (18,0.005) (20,0.002) (37.8,0)};
\addplot[fitline, lkg] coordinates {(0,1) (1,0.98) (2,0.93) (3,0.83) (4,0.7) (5,0.56) (6,0.43) (7,0.32) (8,0.23) (9,0.16) (10,0.11) (11,0.075) (12,0.05) (14,0.02) (16,0.008) (18,0.003) (20,0.001) (37.8,0)};
\addplot[fitline, lkt] coordinates {(0,1) (1,0.99) (2,0.95) (3,0.87) (4,0.76) (5,0.64) (6,0.52) (7,0.41) (8,0.31) (9,0.23) (10,0.17) (11,0.12) (12,0.085) (13,0.06) (14,0.04) (16,0.018) (18,0.008) (20,0.003) (24,0.001) (37.8,0)};
\addplot[fitline, lkr] coordinates {(0,1) (1,0.99) (2,0.96) (3,0.9) (4,0.82) (5,0.72) (6,0.62) (7,0.52) (8,0.42) (9,0.34) (10,0.27) (11,0.21) (12,0.16) (13,0.12) (14,0.09) (16,0.05) (18,0.027) (20,0.015) (24,0.004) (28,0.001) (37.8,0)};
\addplot[only marks, mark=square*, mark size=2pt, lkr] coordinates {(2,0.935) (3.2,0.845) (4.1,0.73) (5,0.62) (6,0.51) (7.1,0.42) (8,0.34) (9.8,0.22) (13.5,0.09) (15.6,0.057) (20,0.02) (22,0.015) (24,0.01) (26,0.01) (28,0.005) (30,0.005) (32,0.003) (34,0.002) (36,0.002)};
\addlegendentry{\textit{y} = 1.00, \textit{x} = 0.01}
\addplot[only marks, mark=*, mark size=2pt, lkt] coordinates {(2.8,0.82) (5.8,0.45) (8.6,0.22) (11.6,0.10) (14.6,0.054)};
\addlegendentry{\textit{y} = 0.25, \textit{x} = 0.02}
\addplot[only marks, mark=diamond*, mark size=2.3pt, lkg] coordinates {(1.4,0.88) (2.6,0.75) (5.1,0.36) (8.6,0.15) (11.6,0.046)};
\addlegendentry{\textit{y} = 0.05, \textit{x} < 0.10}
\addplot[only marks, mark=fstar, mark size=2.6pt, lkb] coordinates {(1.5,0.87) (2.8,0.71) (5.6,0.31) (11.6,0.067) (14.6,0.042) (17.6,0.03) (20.5,0.02) (23.6,0.016) (26.6,0.013) (29.6,0.013) (32.6,0.013)};
\addlegendentry{\textit{y} = 0.00, \textit{x} = 0.004}
\node[font=\tnr\fontsize{6}{7}\selectfont] at (axis description cs:0.892,0.942) {(d)};
\node[font=\tnr\fontsize{10}{11}\selectfont] at (axis description cs:0.095,0.098) {α};
\end{axis}
\end{tikzpicture}
\end{document}
